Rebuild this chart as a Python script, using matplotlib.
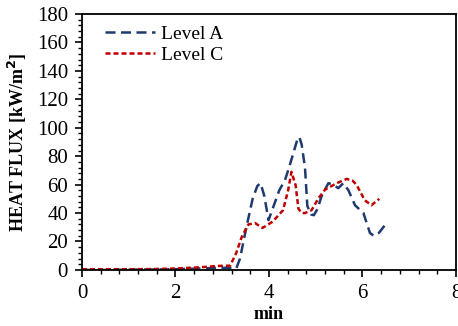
import matplotlib
matplotlib.use("Agg")
import matplotlib.pyplot as plt
from matplotlib.ticker import MultipleLocator

plt.rcParams['font.family'] = ['Liberation Serif', 'DejaVu Serif']

# Level A (blue)
xa = [0.0, 0.5, 1.0, 1.5, 2.0, 2.5, 2.9, 3.1, 3.3, 3.38, 3.52, 3.65, 3.75, 3.82, 3.9, 3.99, 4.1, 4.22, 4.34, 4.41, 4.52, 4.6, 4.65, 4.7, 4.77, 4.82, 4.9, 4.96, 5.04, 5.12, 5.27, 5.38, 5.48, 5.59, 5.7, 5.84, 6.02, 6.1, 6.16, 6.24, 6.35, 6.48]
ya = [0.0, 0.0, 0.2, 0.3, 0.5, 1.0, 1.5, 1.5, 1.0, 8.0, 30.5, 50.0, 59.0, 61.0, 52.0, 35.0, 45.0, 56.0, 63.0, 70.0, 82.0, 91.0, 93.5, 88.0, 72.0, 45.0, 39.0, 38.5, 43.0, 51.5, 61.0, 60.0, 57.5, 61.0, 56.0, 45.5, 40.0, 32.0, 26.0, 24.0, 26.0, 31.5]

# Level C (red)
xc = [0.0, 0.5, 1.0, 1.5, 2.0, 2.5, 2.9, 3.17, 3.3, 3.42, 3.56, 3.7, 3.86, 4.08, 4.3, 4.41, 4.48, 4.57, 4.63, 4.7, 4.77, 4.91, 5.06, 5.2, 5.45, 5.66, 5.78, 5.87, 6.05, 6.19, 6.36]
yc = [0.5, 0.5, 0.5, 0.6, 1.0, 1.8, 2.8, 3.0, 12.0, 23.5, 32.0, 33.0, 29.5, 34.0, 42.0, 56.0, 69.0, 59.5, 43.0, 40.0, 40.0, 42.0, 50.5, 56.5, 61.0, 64.0, 63.0, 60.0, 49.0, 45.5, 50.0]

labels = ["Level A", "Level C"]

fig = plt.figure(figsize=(4.58, 3.26), dpi=100)
ax = fig.add_axes([0.179, 0.172, 0.8166, 0.785])

ax.plot(xa, ya, color='#1F3A6E', lw=1.8, dashes=(4, 2.2), label=labels[0])
ax.plot(xc, yc, color='#C00000', lw=1.8, dashes=(2, 1.2), label=labels[1])

ax.set_xlim(0, 8)
ax.set_ylim(0, 180)
ax.xaxis.set_major_locator(MultipleLocator(2))
ax.xaxis.set_minor_locator(MultipleLocator(0.4))
ax.yaxis.set_major_locator(MultipleLocator(20))
ax.yaxis.set_minor_locator(MultipleLocator(4))
ax.tick_params(axis='both', which='major', direction='out', length=5, width=1.2, labelsize=15, colors='black', pad=5)
ax.tick_params(axis='both', which='minor', direction='out', length=3, width=1.0)
for s in ax.spines.values():
    s.set_linewidth(1.3)

ax.set_xlabel('min', fontsize=13, fontweight='bold', labelpad=2)
ax.set_ylabel('HEAT FLUX [kW/m$^\\mathbf{2}$]', fontsize=13, fontweight='bold', labelpad=6)

ax.legend(loc='upper left', frameon=False, fontsize=14, handlelength=2.6, borderaxespad=0.2, labelspacing=0.15, handletextpad=0.3, bbox_to_anchor=(0.03, 1.0))

fig.savefig('out.png', dpi=100)
